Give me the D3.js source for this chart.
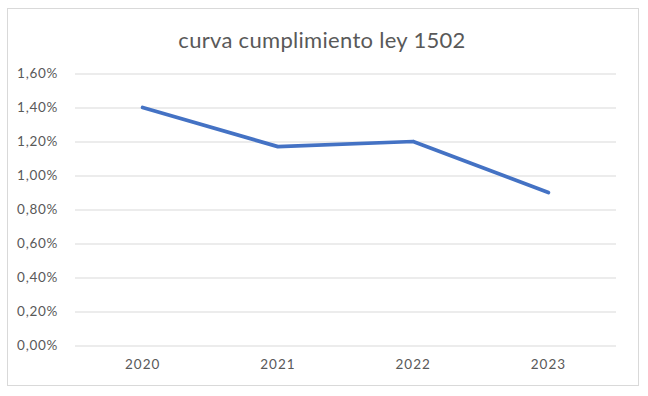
<!DOCTYPE html>
<html>
<head>
<meta charset="utf-8">
<script src="https://cdn.jsdelivr.net/npm/d3@7"></script>
<style>
  body { margin: 0; background: #fff; }
  text { font-family: Lato, "Open Sans", sans-serif; fill: #595959; }
</style>
</head>
<body>
<div id="chart"></div>
<script>
const years = ["2020", "2021", "2022", "2023"];
const values = [0.0140, 0.0117, 0.0120, 0.0090];
const yTicks = [0, 0.002, 0.004, 0.006, 0.008, 0.010, 0.012, 0.014, 0.016];
const title = "curva cumplimiento ley 1502";

const width = 648;
const height = 396;
const plot = { left: 75, right: 616, top: 73.5, bottom: 345.5 };

const svg = d3.select("#chart")
  .append("svg")
  .attr("width", width)
  .attr("height", height)

// chart frame
svg.append("rect")
  .attr("x", 7.5)
  .attr("y", 8.5)
  .attr("width", 631)
  .attr("height", 377)
  .attr("fill", "#fff")
  .attr("stroke", "#d9d9d9")

const xScale = d3.scaleBand()
  .domain(years)
  .range([plot.left, plot.right])

const yScale = d3.scaleLinear()
  .domain([0, 0.016])
  .range([plot.bottom, plot.top])

const fmt = d => d3.format(".2%")(d).replace(".", ",")

// gridlines + y labels
const yAxis = d3.axisLeft(yScale)
  .tickValues(yTicks)
  .tickSize(-(plot.right - plot.left))
  .tickPadding(17)
  .tickFormat(fmt)

svg.append("g")
  .attr("transform", `translate(${plot.left}, 0)`)
  .call(yAxis)
  .call(g => g.select(".domain").remove())
  .call(g => g.selectAll("line").attr("stroke", "#d9d9d9").attr("stroke-width", 1))
  .call(g => g.selectAll("text")
    .style("font-size", "13.5px")
    .style("letter-spacing", "0.7px")
    .attr("fill", "#595959"))

// x labels
const xAxis = d3.axisBottom(xScale).tickSize(0).tickPadding(14)
svg.append("g")
  .attr("transform", `translate(0, ${plot.bottom})`)
  .call(xAxis)
  .call(g => g.select(".domain").remove())
  .call(g => g.selectAll("text")
    .style("font-size", "13.5px")
    .style("letter-spacing", "1px")
    .attr("fill", "#595959"))

const line = d3.line()
  .x((d, i) => xScale(years[i]) + xScale.bandwidth() / 2)
  .y(d => yScale(d))

svg.append("path")
  .datum(values)
  .attr("d", line)
  .attr("fill", "none")
  .attr("stroke", "#4472c4")
  .attr("stroke-width", 3.75)
  .attr("stroke-linecap", "round")
  .attr("stroke-linejoin", "round")

svg.append("text")
  .attr("x", 322)
  .attr("y", 48)
  .attr("text-anchor", "middle")
  .style("font-size", "22px")
  .style("letter-spacing", "0.3px")
  .text(title)
</script>
</body>
</html>
